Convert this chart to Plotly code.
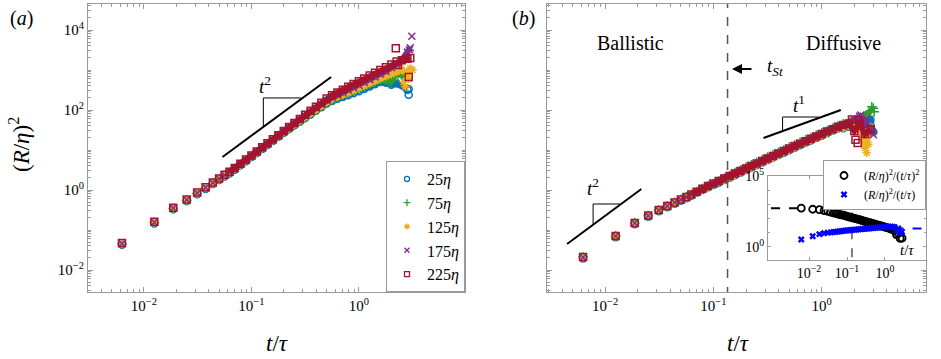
import plotly.graph_objects as go

# ---------------- data ----------------
# sample times t/tau
T_EARLY = [0.00625, 0.0125, 0.01875, 0.025, 0.03125, 0.0375, 0.04375, 0.05, 0.05625, 0.0625]
T_DENSE = [0.07, 0.079, 0.089, 0.1, 0.112, 0.126, 0.141, 0.158, 0.178, 0.2,
           0.224, 0.251, 0.282, 0.316, 0.355, 0.398, 0.447, 0.501, 0.562, 0.631,
           0.708, 0.794, 0.891, 1.0, 1.12, 1.26, 1.41, 1.58, 1.78, 2.0,
           2.24, 2.51, 2.82, 3.0]
T = T_EARLY + T_DENSE

# panel (a): (R/eta)^2
A_25 = [0.043, 0.146, 0.33, 0.53, 0.78, 1.06, 1.41, 1.77, 2.18, 2.6,
        3.22, 4.13, 5.25, 6.65, 8.37, 10.6, 13.4, 16.8, 21.4, 27.1,
        33.4, 41.3, 50.9, 62.9, 77.5, 96.1, 118, 146, 169, 190,
        211, 234, 262, 295, 337, 389, 443, 499, 480, 430,
        460, None, 320, None]
A_75 = [0.045, 0.153, 0.344, 0.554, 0.82, 1.12, 1.48, 1.86, 2.29, 2.72,
        3.38, 4.33, 5.5, 6.97, 8.78, 11.2, 14.0, 17.6, 22.4, 28.4,
        34.6, 42.6, 52.7, 65.0, 80.3, 99.5, 123, 153, 179, 204,
        228, 256, 291, 331, 380, 436, 494, 560, 560, 520,
        890, 720, 850, None]
A_125 = [0.045, 0.152, 0.345, 0.555, 0.82, 1.12, 1.48, 1.86, 2.3, 2.72,
         3.38, 4.34, 5.51, 6.98, 8.79, 11.2, 14.0, 17.7, 22.4, 28.5,
         35.0, 43.2, 53.3, 66.5, 83.2, 103, 128, 161, 188, 213,
         240, 268, 305, 346, 400, 467, 535, 620, 700, 780,
         900, 1000, 800, 1100]
A_175 = [0.046, 0.157, 0.353, 0.57, 0.84, 1.15, 1.52, 1.91, 2.35, 2.79,
         3.47, 4.45, 5.65, 7.16, 9.0, 11.5, 14.4, 18.1, 23.0, 29.2,
         37.1, 46.3, 57.8, 72.2, 90.1, 112, 139, 172, 206, 237,
         275, 316, 362, 416, 488, 575, 674, 790, 930, 1150,
         1400, 1800, 2800, 3600]
A_225 = [0.047, 0.16, 0.36, 0.58, 0.86, 1.17, 1.55, 1.95, 2.4, 2.85,
         3.54, 4.54, 5.77, 7.31, 9.2, 11.7, 14.7, 18.5, 23.5, 29.8,
         37.5, 47.4, 59.8, 75.6, 95.5, 121, 152, 193, 234, 275,
         323, 379, 446, 524, 614, 724, 848, 995, 1175, 1380,
         1620, 1750, 1900, 2000]
# scattered end points, panel (a)
A_END_T = [[2.9, 2.9], [1.9, 2.3, 2.6], [2.4, 2.6, 2.7, 2.9, 3.15], [2.95, 3.1], [2.2, 2.3, 2.9]]
A_END_Y = [[330, 240], [470, 700, 900], [1300, 500, 380, 600, 1000], [3200, 7000], [3500, 1330, 670]]

# panel (b): (R/eta)^2
B_25 = [0.0195, 0.066, 0.14, 0.214, 0.293, 0.372, 0.456, 0.54, 0.623, 0.716,
        0.85, 1.0, 1.17, 1.33, 1.52, 1.77, 2.03, 2.35, 2.72, 3.16,
        3.63, 4.2, 4.85, 5.61, 6.47, 7.45, 8.59, 9.92, 11.4, 13.1,
        15.1, 17.4, 19.9, 22.8, 26.2, 30.1, 34.5, 35, 38, 40,
        42, 45, 56, 28]
B_75 = [0.021, 0.071, 0.15, 0.23, 0.315, 0.40, 0.49, 0.58, 0.67, 0.77,
        0.906, 1.08, 1.26, 1.45, 1.67, 1.96, 2.28, 2.7, 3.2, 3.71,
        4.27, 4.93, 5.7, 6.6, 7.61, 8.76, 10.1, 11.7, 13.4, 15.4,
        17.8, 20.4, 23.4, 26.9, 30.2, 34.8, 39.8, 45, 50, 48,
        55, 70, 95, 110]
B_125 = [0.0204, 0.069, 0.146, 0.223, 0.306, 0.388, 0.475, 0.563, 0.65, 0.747,
         0.88, 1.05, 1.2, 1.37, 1.57, 1.81, 2.08, 2.4, 2.78, 3.23,
         3.71, 4.29, 4.96, 5.74, 6.61, 7.62, 8.78, 10.1, 11.6, 13.4,
         15.4, 17.8, 20.4, 23.3, 26.8, 30.8, 35.2, 36, 40, 42,
         38, 11, 38, None]
B_175 = [0.0208, 0.070, 0.149, 0.228, 0.312, 0.396, 0.485, 0.574, 0.663, 0.762,
         0.9, 1.07, 1.26, 1.46, 1.69, 1.97, 2.27, 2.63, 3.05, 3.54,
         4.07, 4.7, 5.44, 6.29, 7.25, 8.35, 9.63, 11.1, 12.8, 14.7,
         16.9, 19.5, 22.3, 25.6, 29.4, 33.8, 38.7, 40, 48, 55,
         70, 45, 35, 24]
B_225 = [0.021, 0.071, 0.15, 0.23, 0.315, 0.40, 0.49, 0.58, 0.67, 0.77,
         0.906, 1.08, 1.26, 1.45, 1.67, 1.94, 2.23, 2.58, 2.99, 3.47,
         3.99, 4.61, 5.33, 6.17, 7.11, 8.19, 9.44, 10.9, 12.5, 14.4,
         16.6, 19.1, 21.9, 25.1, 28.8, 33.1, 37.9, 42, 45, 30,
         45, 25, 33, None]
B_END_T = [[], [2.9, 3.05], [2.6, 2.7], [2.3, 2.6], [1.9, 2.05, 2.15, 2.2]]
B_END_Y = [[], [120, 90], [8.5, 14], [75, 60], [58, 18, 15, 55]]

LABELS = ['25<i>η</i>', '75<i>η</i>', '125<i>η</i>', '175<i>η</i>', '225<i>η</i>']
T_ST = 0.135

# guide lines (t, value)
GUIDE_A_T2 = ([0.0538, 0.551], [6.68, 668])
GUIDE_A_TRI = ([0.129, 0.129, 0.29], [37.6, 200, 200])
GUIDE_B_T2 = ([0.00445, 0.0216], [0.0447, 1.06])
GUIDE_B_TRI2 = ([0.00774, 0.00774, 0.01377], [0.141, 0.447, 0.447])
GUIDE_B_T1 = ([0.29, 1.5], [20, 100])
GUIDE_B_TRI1 = ([0.435, 0.435, 0.938], [29.9, 66.8, 66.8])
INSET_BLACK_DASH = ([0.001, 0.0052], [540, 540])
INSET_BLUE_DASH = ([0.6, 12], [20, 20])

# ---------------- styling ----------------
W, H = 941, 359
def px(x): return x / W
def py(y): return 1 - y / H

FRAME = '#9a9a9a'
FONT = 'Liberation Serif, Times New Roman, serif'
COLORS = ['#0072BD', '#2e9e2e', '#EDB120', '#7E2F8E', '#A2142F']
SYMBOLS = ['circle-open', 'cross-thin-open', 'asterisk-open', 'x-thin-open', 'square-open']

fig = go.Figure()

def add_panel(series, ends_t, ends_y, xa, ya):
    for i, ys in enumerate(series):
        c = COLORS[i]
        fig.add_trace(go.Scatter(x=T[9:], y=ys[9:], mode='lines', connectgaps=True,
                                 line=dict(color=c, width=6), showlegend=False,
                                 hoverinfo='skip', xaxis=xa, yaxis=ya))
        fig.add_trace(go.Scatter(x=T + ends_t[i], y=ys + ends_y[i], mode='markers',
                                 marker=dict(symbol=SYMBOLS[i], size=7, color=c,
                                             line=dict(color=c, width=1.5)),
                                 name=LABELS[i], showlegend=False,
                                 xaxis=xa, yaxis=ya))

add_panel([A_25, A_75, A_125, A_175, A_225], A_END_T, A_END_Y, 'x', 'y')
add_panel([B_25, B_75, B_125, B_175, B_225], B_END_T, B_END_Y, 'x2', 'y2')

# legend entries for panel (a) (smaller symbols, as in the reference key)
for i in range(5):
    fig.add_trace(go.Scatter(x=[None], y=[None], mode='markers', name=LABELS[i],
                             marker=dict(symbol=SYMBOLS[i], size=5, color=COLORS[i],
                                         line=dict(color=COLORS[i], width=1.3)),
                             legend='legend', xaxis='x', yaxis='y'))

def guide(xy, xa, ya, dash='solid', color='black', width=2):
    fig.add_trace(go.Scatter(x=xy[0], y=xy[1], mode='lines', showlegend=False,
                             line=dict(color=color, width=width, dash=dash),
                             hoverinfo='skip', xaxis=xa, yaxis=ya))

guide(GUIDE_A_T2, 'x', 'y')
guide(GUIDE_A_TRI, 'x', 'y', width=1)
guide(GUIDE_B_T2, 'x2', 'y2')
guide(GUIDE_B_TRI2, 'x2', 'y2', width=1)
guide(GUIDE_B_T1, 'x2', 'y2')
guide(GUIDE_B_TRI1, 'x2', 'y2', width=1)
guide(([T_ST, T_ST], [1e-4, 1e6]), 'x2', 'y2', dash='dash', color='#555555', width=1.5)

# inset: derived from the 225 eta series of panel (b)
inset_t = [t for t, v in zip(T, B_225) if v is not None]
inset_v = [v for v in B_225 if v is not None]
inset_r2 = [v / t ** 2 for t, v in zip(inset_t, inset_v)]
inset_r1 = [v / t for t, v in zip(inset_t, inset_v)]

guide(INSET_BLACK_DASH, 'x3', 'y3', dash='dash', color='black', width=2)
guide(INSET_BLUE_DASH, 'x3', 'y3', dash='dash', color='#0000ff', width=2)
guide(([T_ST, T_ST], [1e-2, 1e6]), 'x3', 'y3', dash='dash', color='#555555', width=1.5)
fig.add_trace(go.Scatter(x=inset_t, y=inset_r2, mode='markers',
                         marker=dict(symbol='circle-open', size=7, color='black',
                                     line=dict(color='black', width=1.8)),
                         name='(<i>R</i>/<i>η</i>)<sup>2</sup>/(<i>t</i>/<i>τ</i>)<sup>2</sup>',
                         legend='legend2', xaxis='x3', yaxis='y3'))
fig.add_trace(go.Scatter(x=inset_t, y=inset_r1, mode='markers',
                         marker=dict(symbol='x', size=6, color='#0000ff'),
                         name='(<i>R</i>/<i>η</i>)<sup>2</sup>/(<i>t</i>/<i>τ</i>)',
                         legend='legend2', xaxis='x3', yaxis='y3'))

def minor_vals(d0, d1):
    return [k * 10.0 ** d for d in range(d0, d1) for k in range(2, 10)]

def sup(p):
    return '10<sup>%s</sup>' % (('−%d' % -p) if p < 0 else str(p))

tickfont = dict(family=FONT, size=15, color='black')
base = dict(type='log', showline=True, linecolor=FRAME, linewidth=1, mirror='ticks',
            ticks='inside', ticklen=5, tickcolor=FRAME, tickwidth=1,
            showgrid=False, zeroline=False, tickfont=tickfont, automargin=False)

xt_vals = [1e-2, 1e-1, 1, 10]
xt_text = [sup(-2), sup(-1), sup(0), sup(1)]
yt_vals = [10.0 ** p for p in range(-2, 5, 2)]
yt_text = [sup(p) for p in range(-2, 5, 2)]
y_minor = sorted(minor_vals(-3, 5) + [10.0 ** p for p in range(-3, 6, 2)])

def mk_minor(vals):
    return dict(ticks='inside', ticklen=3, tickcolor=FRAME, tickvals=vals, showgrid=False)

fig.update_layout(
    width=W, height=H, autosize=False,
    margin=dict(l=0, r=0, t=0, b=0, pad=0, autoexpand=False),
    paper_bgcolor='white', plot_bgcolor='white',
    font=dict(family=FONT, color='black'),
    xaxis=dict(base, domain=[px(88), px(465)], range=[-2.52, 0.986], anchor='y',
               tickvals=xt_vals, ticktext=xt_text, minor=mk_minor(minor_vals(-3, 1))),
    yaxis=dict(base, domain=[py(292), py(4)], range=[-2.55, 4.65], anchor='x',
               tickvals=yt_vals, ticktext=yt_text, minor=mk_minor(y_minor)),
    xaxis2=dict(base, domain=[px(547), px(926)], range=[-2.537, 0.963], anchor='y2',
                tickvals=xt_vals, ticktext=xt_text, minor=mk_minor(minor_vals(-3, 1))),
    yaxis2=dict(base, domain=[py(292), py(4)], range=[-2.55, 4.65], anchor='x2',
                tickvals=yt_vals, showticklabels=False, minor=mk_minor(y_minor)),
    xaxis3=dict(base, domain=[px(768), px(926)], range=[-3.08, 1.08], anchor='y3',
                tickvals=[1e-2, 1e-1, 1], ticktext=[sup(-2), sup(-1), sup(0)], ticklen=3,
                tickfont=dict(family=FONT, size=14, color='black')),
    yaxis3=dict(base, domain=[py(260), py(176)], range=[-0.92, 5.0], anchor='x3',
                tickvals=[1, 1e5], ticktext=[sup(0), sup(5)], ticklen=3,
                tickfont=dict(family=FONT, size=14, color='black'),
                minor=dict(ticks='inside', ticklen=2, tickcolor=FRAME,
                           tickvals=[10.0 ** p for p in range(1, 5)])),
    legend=dict(x=px(465), xanchor='right', y=py(292), yanchor='bottom',
                bgcolor='white', bordercolor=FRAME, borderwidth=1,
                font=dict(family=FONT, size=16, color='black'),
                itemwidth=30),
    legend2=dict(x=px(926), xanchor='right', y=py(160), yanchor='top',
                 bgcolor='white', bordercolor=FRAME, borderwidth=1,
                 font=dict(family=FONT, size=12, color='black'), itemwidth=30,
                 tracegroupgap=0),
)

def ann(x, y, text, size, **kw):
    d = dict(x=px(x), y=py(y), xref='paper', yref='paper', text=text, showarrow=False,
             xanchor='center', yanchor='middle',
             font=dict(family=FONT, size=size, color='black'))
    d.update(kw)
    fig.add_annotation(**d)

ann(21, 19, '(<i>a</i>)', 20)
ann(523, 19, '(<i>b</i>)', 20)
ann(630, 43, 'Ballistic', 20)
ann(843, 43, 'Diffusive', 20)
ann(765, 67, '<i>t</i><sub><i>St</i></sub>', 19, xanchor='left')
ann(265, 85, '<i>t</i><sup>2</sup>', 19)
ann(593, 187, '<i>t</i><sup>2</sup>', 19)
ann(799, 104, '<i>t</i><sup>1</sup>', 19)
ann(277, 343, '<i>t</i>/<i>τ</i>', 23)
ann(738, 343, '<i>t</i>/<i>τ</i>', 23)
ann(19, 145, '(<i>R</i>/<i>η</i>)<sup>2</sup>', 23, textangle=-90)
ann(907, 250, '<i>t</i>/<i>τ</i>', 15)
fig.add_annotation(x=px(732), y=py(69), xref='paper', yref='paper', text='',
                   showarrow=True, ax=21, ay=0, arrowhead=2, arrowsize=1,
                   arrowwidth=2, arrowcolor='black')

fig.write_html('out.html', config={'displayModeBar': False},
               post_script="document.body.style.margin='0';"
                           "document.documentElement.style.overflow='hidden';"
                           "document.body.style.overflow='hidden';")
